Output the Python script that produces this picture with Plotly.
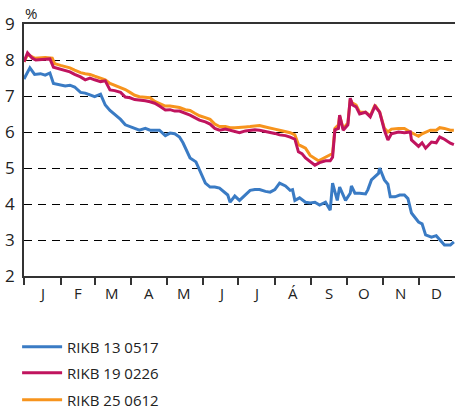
import pandas as pd
import plotly.graph_objects as go

year_start = "2012-01-01"
month_labels = ["J", "F", "M", "A", "M", "J", "J", "Á", "S", "O", "N", "D"]
y_ticks = [2, 3, 4, 5, 6, 7, 8, 9]

# days since 1 Jan 2012, yields in %
rikb13_days = [0,5,9,14,18,22,25,31,35,39,43,48,52,56,60,65,69,73,77,82,86,90,94,98,103,107,111,115,120,124,
               128,132,135,138,141,146,149,154,158,162,166,171,173,175,179,183,188,192,196,200,205,209,213,217,222,
               226,228,230,234,239,243,247,251,256,260,262,266,268,273,277,278,281,285,290,292,295,301,302,306,309,
               311,315,319,323,326,329,335,338,341,346,350,353,357,362,365]
rikb13_vals = [7.47,7.78,7.6,7.62,7.58,7.64,7.35,7.3,7.28,7.3,7.25,7.1,7.08,7.03,6.98,7.05,6.75,6.6,6.5,6.35,
               6.2,6.15,6.1,6.05,6.1,6.05,6.05,6.05,5.9,5.97,5.95,5.86,5.7,5.5,5.28,5.17,4.94,4.58,4.47,4.47,
               4.44,4.3,4.25,4.05,4.22,4.1,4.25,4.38,4.4,4.4,4.35,4.33,4.4,4.58,4.5,4.38,4.4,4.1,4.17,4.05,
               4.03,4.05,3.97,4.05,3.83,4.58,4.1,4.47,4.1,4.3,4.5,4.3,4.3,4.28,4.4,4.67,4.85,5.0,4.67,4.55,
               4.2,4.2,4.25,4.25,4.15,3.75,3.5,3.45,3.14,3.08,3.12,3.0,2.86,2.86,2.95]

rikb19_days = [0,3,7,10,18,22,25,31,39,43,48,52,56,60,65,69,73,77,82,86,90,94,98,103,107,111,115,120,124,128,
               132,137,141,145,149,154,158,162,166,171,175,179,183,188,192,196,200,205,209,213,217,222,226,230,233,
               236,239,243,247,251,256,260,262,264,267,268,271,275,277,279,282,285,290,294,298,302,306,309,312,318,
               323,328,329,335,338,341,346,350,353,357,362,365]
rikb19_vals = [7.95,8.2,8.05,8.0,8.02,8.03,7.8,7.75,7.67,7.6,7.53,7.45,7.5,7.45,7.4,7.42,7.17,7.15,7.1,6.97,
               6.95,6.9,6.89,6.87,6.84,6.8,6.72,6.61,6.62,6.58,6.58,6.52,6.47,6.4,6.33,6.28,6.22,6.1,6.05,6.08,
               6.05,6.03,5.98,6.03,6.05,6.06,6.05,6.02,6.0,5.96,5.92,5.9,5.86,5.8,5.45,5.4,5.28,5.17,5.08,5.15,
               5.2,5.2,5.3,6.06,6.1,6.47,6.05,6.2,6.94,6.75,6.7,6.5,6.55,6.42,6.72,6.55,6.05,5.78,5.95,6.0,
               5.98,6.0,5.78,5.6,5.7,5.55,5.72,5.7,5.86,5.8,5.69,5.65]

rikb25_days = [0,3,9,18,24,26,31,39,43,48,52,56,60,65,69,73,77,82,86,90,94,98,103,107,111,115,120,124,128,132,
               137,141,145,149,154,158,162,166,171,175,179,183,188,192,196,200,205,209,213,217,222,226,230,233,236,
               239,243,247,250,253,256,260,262,264,267,268,271,275,277,279,282,285,290,294,298,302,306,309,312,318,
               323,328,332,335,338,345,350,353,357,362,365]
rikb25_vals = [7.95,8.15,8.05,8.07,8.05,7.9,7.85,7.78,7.72,7.65,7.62,7.6,7.55,7.5,7.45,7.35,7.3,7.25,7.18,7.1,
               7.02,6.98,6.96,6.95,6.85,6.8,6.72,6.72,6.7,6.68,6.62,6.6,6.52,6.45,6.4,6.35,6.22,6.15,6.15,6.12,
               6.12,6.12,6.14,6.15,6.17,6.18,6.14,6.1,6.08,6.05,6.02,5.98,5.92,5.65,5.6,5.55,5.35,5.25,5.2,5.25,
               5.3,5.35,5.4,6.1,6.2,6.45,6.1,6.25,6.9,6.8,6.75,6.55,6.55,6.45,6.75,6.55,6.1,6.0,6.08,6.1,
               6.1,6.0,5.92,5.88,5.95,6.05,6.05,6.12,6.1,6.05,6.05]

base = pd.Timestamp(year_start)
def to_dates(days):
    return [base + pd.Timedelta(days=d) for d in days]

FONT = "Open Sans, Noto Sans, sans-serif"
fig = go.Figure()
fig.add_trace(go.Scatter(x=to_dates(rikb25_days), y=rikb25_vals, mode="lines", name="RIKB 25 0612",
                         line=dict(color="#f7941d", width=3), legend="legend3"))
fig.add_trace(go.Scatter(x=to_dates(rikb19_days), y=rikb19_vals, mode="lines", name="RIKB 19 0226",
                         line=dict(color="#c0145e", width=3), legend="legend2"))
fig.add_trace(go.Scatter(x=to_dates(rikb13_days), y=rikb13_vals, mode="lines", name="RIKB 13 0517",
                         line=dict(color="#3a7bc4", width=3), legend="legend"))

month_starts = pd.date_range("2012-01-01", periods=12, freq="MS")
mids = [m + pd.Timedelta(days=15) for m in month_starts]
for m, lab in zip(mids, month_labels):
    fig.add_annotation(x=m, y=0, xref="x", yref="paper", text=lab, showarrow=False,
                       yanchor="top", yshift=-5, font=dict(size=15, color="#222", family=FONT))
fig.add_annotation(x=0, y=1, xref="paper", yref="paper", text="%", showarrow=False,
                   xanchor="left", yanchor="bottom", yshift=0, borderpad=0,
                   font=dict(size=15, color="#222", family=FONT))

def leg(ypix):
    # ypix: pixel row of legend entry centre; plot bottom at 276, height 252
    return dict(x=-0.016, y=-(ypix - 276) / 252, xanchor="left", yanchor="middle",
                font=dict(size=15, family=FONT, color="#222"), itemwidth=40,
                bgcolor="rgba(0,0,0,0)")

fig.update_layout(
    width=455, height=414,
    margin=dict(l=24, r=0, t=24, b=138, autoexpand=False),
    paper_bgcolor="white", plot_bgcolor="white",
    font=dict(family=FONT, color="#222"),
    showlegend=True,
    legend=leg(347), legend2=leg(373), legend3=leg(400),
    xaxis=dict(type="date", range=["2012-01-01", "2012-12-31 23:00"],
               tickvals=list(month_starts), ticktext=[""] * 12, automargin=False,
               ticks="outside", ticklen=7, tickcolor="#333", tickwidth=1.5,
               showline=True, linecolor="#333", linewidth=1.5, mirror=True,
               showgrid=False, zeroline=False),
    yaxis=dict(range=[2, 9], tickvals=y_ticks, ticks="", showline=True, linecolor="#333", linewidth=1.5,
               showgrid=True, gridcolor="black", gridwidth=1.3, griddash="8px,6px", automargin=False,
               tickfont=dict(size=17, family=FONT, color="#222"), zeroline=False, ticklabelstandoff=4),
)
fig.write_html("out.html", config={"displayModeBar": False},
               post_script="document.body.style.margin='0';document.body.style.overflow='hidden';")
